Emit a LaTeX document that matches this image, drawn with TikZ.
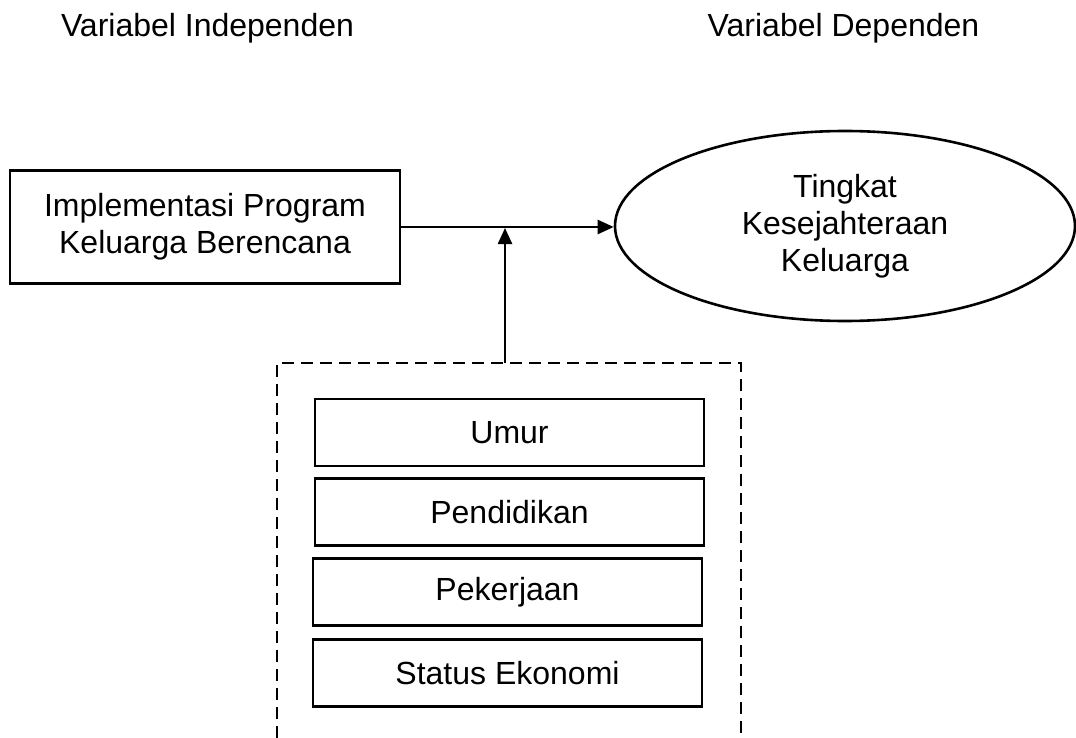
\documentclass[tikz,border=0pt]{standalone}
\usepackage{fontspec}
\setmainfont{Liberation Sans}
\usetikzlibrary{arrows.meta,shapes.geometric}

\tikzset{
  varbox/.style={draw=black, line width=2.6pt, rectangle, align=center, inner sep=0pt},
  varoval/.style={draw=black, line width=2.6pt, ellipse, align=center, inner sep=0pt},
  subbox/.style={draw=black, line width=2.6pt, rectangle, minimum width=389pt, minimum height=67pt, inner sep=0pt},
  arrowline/.style={black, line width=2.4pt, -{Triangle[length=16pt,width=14pt]}},
}

\begin{document}
\begin{tikzpicture}[x=1pt, y=-1pt, font=\fontsize{32}{37}\selectfont]
            \useasboundingbox (0,0) rectangle (1076,738);

            % judul kolom
            \node[anchor=base] (judulX) at (207.5,37) {Variabel Independen};
            \node[anchor=base] (judulY) at (843.5,37) {Variabel Dependen};

            % variabel utama
            \node[varbox, minimum width=390pt, minimum height=113pt] (program) at (205,227) {Implementasi Program\\Keluarga Berencana};
            \node[varoval, minimum width=460pt, minimum height=190pt] (sejahtera) at (845,226) {Tingkat\\Kesejahteraan\\Keluarga};

            % variabel karakteristik
            \draw[black, line width=2.6pt, dash pattern=on 12pt off 7pt] (277,738) -- (277,363) -- (741,363) -- (741,738);
            \node[subbox] (umur) at (509.5,432.5) {Umur};
            \node[subbox] (didik) at (509.5,512) {Pendidikan};
            \node[subbox] (kerja) at (507.5,592) {Pekerjaan};
            \node[subbox] (ekonomi) at (507.5,673) {Status Ekonomi};

            \coordinate (moderasi) at (505,363);
            \coordinate (titik) at (505,228);

            \draw[arrowline] (program.east) -- (program.east -| sejahtera.west);
            \draw[arrowline] (moderasi) -- (titik);
        \end{tikzpicture}
\end{document}
